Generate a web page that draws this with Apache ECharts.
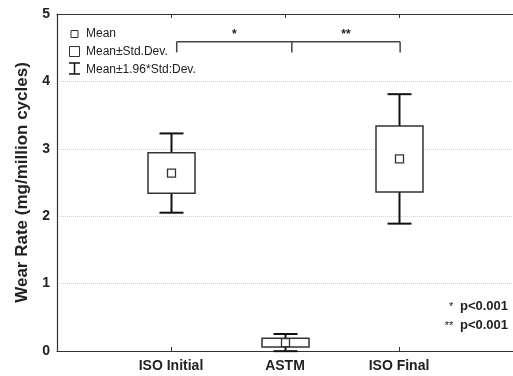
<!DOCTYPE html>
<html>
<head>
<meta charset="utf-8">
<script src="https://cdn.jsdelivr.net/npm/echarts@6/dist/echarts.min.js"></script>
<style>
  html, body { margin: 0; padding: 0; background: #fff; }
  #chart { width: 513px; height: 376px; }
</style>
</head>
<body>
<div id="chart"></div>
<script>
// Wear rate per test protocol: mean and standard deviation
const categories = ['ISO Initial', 'ASTM', 'ISO Final'];
const categoryPos = [1, 2, 3];
const means = [2.64, 0.125, 2.85];
const stdDevs = [0.30, 0.065, 0.49];
const yTicks = [0, 1, 2, 3, 4, 5];

// Significance bracket (x positions along the axis, heights in wear-rate units)
const bracketX = [1.05, 2.06, 3.01];
const bracketTop = 4.59;
const bracketFoot = 4.43;
const starLabels = ['*', '**'];
const starY = 4.69;

const FONT = '"Liberation Sans", Arial, sans-serif';
const INK = '#222';

const boxData = categoryPos.map((x, i) => {
  const m = means[i], s = stdDevs[i];
  return [x, m - 1.96 * s, m - s, m, m + s, m + 1.96 * s];
});

const chart = echarts.init(document.getElementById('chart'), null, { renderer: 'canvas' });

const option = {
  animation: false,
  backgroundColor: '#fff',
  grid: { left: 57, right: 0, top: 14, bottom: 25 },
  xAxis: [
    {
      type: 'value', min: 0, max: 4, interval: 1, position: 'bottom',
      axisLine: { lineStyle: { color: '#333', width: 1.2 } },
      axisTick: { inside: true, length: 4, customValues: categoryPos, lineStyle: { color: '#333' } },
      splitLine: { show: false },
      axisLabel: {
        margin: 8, fontFamily: FONT, fontSize: 14, fontWeight: 'bold', color: INK,
        customValues: categoryPos,
        formatter: v => { const i = categoryPos.indexOf(v); return i >= 0 ? categories[i] : ''; }
      }
    },
    {
      type: 'value', min: 0, max: 4, interval: 1, position: 'top',
      axisLine: { show: true, lineStyle: { color: '#333', width: 1.2 } },
      axisTick: { inside: true, length: 4, customValues: categoryPos, lineStyle: { color: '#333' } },
      axisLabel: { show: false },
      splitLine: { show: false }
    }
  ],
  yAxis: {
    type: 'value', min: yTicks[0], max: yTicks[yTicks.length - 1], interval: 1,
    name: 'Wear Rate (mg/million cycles)',
    nameLocation: 'middle', nameGap: 26,
    nameTextStyle: { fontFamily: FONT, fontSize: 17, fontWeight: 'bold', color: INK },
    axisLine: { show: true, lineStyle: { color: '#333', width: 1.2 } },
    axisTick: { show: false },
    axisLabel: { margin: 7, fontFamily: FONT, fontSize: 14, fontWeight: 'bold', color: INK },
    splitLine: { lineStyle: { color: '#d0d0d0', type: [1, 1], width: 1 } }
  },
  series: [
    {
      type: 'custom',
      xAxisIndex: 0,
      data: boxData,
      renderItem: (params, api) => {
        const x = api.value(0);
        const wLo = api.coord([x, api.value(1)]);
        const bLo = api.coord([x, api.value(2)]);
        const mid = api.coord([x, api.value(3)]);
        const bHi = api.coord([x, api.value(4)]);
        const wHi = api.coord([x, api.value(5)]);
        const cx = Math.round(mid[0]) + 0.5;
        const boxW = 47, capW = 24, meanS = 8;
        const whisk = { stroke: '#111', lineWidth: 2 };
        return {
          type: 'group',
          children: [
            { type: 'line', shape: { x1: cx, y1: wLo[1], x2: cx, y2: bLo[1] }, style: whisk },
            { type: 'line', shape: { x1: cx, y1: bHi[1], x2: cx, y2: wHi[1] }, style: whisk },
            { type: 'line', shape: { x1: cx - capW / 2, y1: wLo[1], x2: cx + capW / 2, y2: wLo[1] }, style: whisk },
            { type: 'line', shape: { x1: cx - capW / 2, y1: wHi[1], x2: cx + capW / 2, y2: wHi[1] }, style: whisk },
            { type: 'rect', shape: { x: cx - boxW / 2, y: bHi[1], width: boxW, height: bLo[1] - bHi[1] },
              style: { fill: '#fff', stroke: '#333', lineWidth: 1.5 } },
            { type: 'rect', shape: { x: cx - meanS / 2, y: mid[1] - meanS / 2, width: meanS, height: meanS },
              style: { fill: '#fff', stroke: '#333', lineWidth: 1.3 } }
          ]
        };
      }
    },
    {
      type: 'custom',
      xAxisIndex: 0,
      data: [0],
      renderItem: (params, api) => {
        const pts = bracketX.map(x => api.coord([x, bracketTop]));
        const foot = api.coord([0, bracketFoot])[1];
        const st = { stroke: '#444', lineWidth: 1.5 };
        const children = [
          { type: 'line', shape: { x1: pts[0][0], y1: pts[0][1], x2: pts[2][0], y2: pts[2][1] }, style: st }
        ];
        pts.forEach(p => children.push({ type: 'line', shape: { x1: p[0], y1: p[1], x2: p[0], y2: foot }, style: st }));
        starLabels.forEach((s, i) => {
          const c = api.coord([(bracketX[i] + bracketX[i + 1]) / 2, starY]);
          children.push({ type: 'text', x: c[0], y: c[1],
            style: { text: s, fontFamily: FONT, fontSize: 12, fontWeight: 'bold', fill: INK, align: 'center', verticalAlign: 'middle' } });
        });
        return { type: 'group', children };
      }
    }
  ],
  graphic: [
    // legend
    { type: 'rect', shape: { x: 71, y: 30.5, width: 7, height: 7 }, style: { fill: '#fff', stroke: '#333', lineWidth: 1 } },
    { type: 'text', x: 86, y: 34, style: { text: 'Mean', fontFamily: FONT, fontSize: 12, fill: INK, verticalAlign: 'middle' } },
    { type: 'rect', shape: { x: 69.5, y: 46.5, width: 10, height: 10 }, style: { fill: '#fff', stroke: '#333', lineWidth: 1 } },
    { type: 'text', x: 86, y: 52, style: { text: 'Mean±Std.Dev.', fontFamily: FONT, fontSize: 12, fill: INK, verticalAlign: 'middle' } },
    { type: 'line', shape: { x1: 74.5, y1: 63, x2: 74.5, y2: 74 }, style: { stroke: '#111', lineWidth: 1.5 } },
    { type: 'line', shape: { x1: 69, y1: 63, x2: 80, y2: 63 }, style: { stroke: '#111', lineWidth: 1.5 } },
    { type: 'line', shape: { x1: 69, y1: 74, x2: 80, y2: 74 }, style: { stroke: '#111', lineWidth: 1.5 } },
    { type: 'text', x: 86, y: 70, style: { text: 'Mean±1.96*Std:Dev.', fontFamily: FONT, fontSize: 12, fill: INK, verticalAlign: 'middle' } },
    // significance notes
    { type: 'text', right: 5, top: 300, style: {
        text: '{s|*}  {p|p<0.001}', align: 'right',
        rich: { s: { fontFamily: FONT, fontSize: 11, fill: INK }, p: { fontFamily: FONT, fontSize: 13, fontWeight: 'bold', fill: INK } } } },
    { type: 'text', right: 5, top: 319, style: {
        text: '{s|**}  {p|p<0.001}', align: 'right',
        rich: { s: { fontFamily: FONT, fontSize: 11, fill: INK }, p: { fontFamily: FONT, fontSize: 13, fontWeight: 'bold', fill: INK } } } }
  ]
};

chart.setOption(option);
</script>
</body>
</html>
